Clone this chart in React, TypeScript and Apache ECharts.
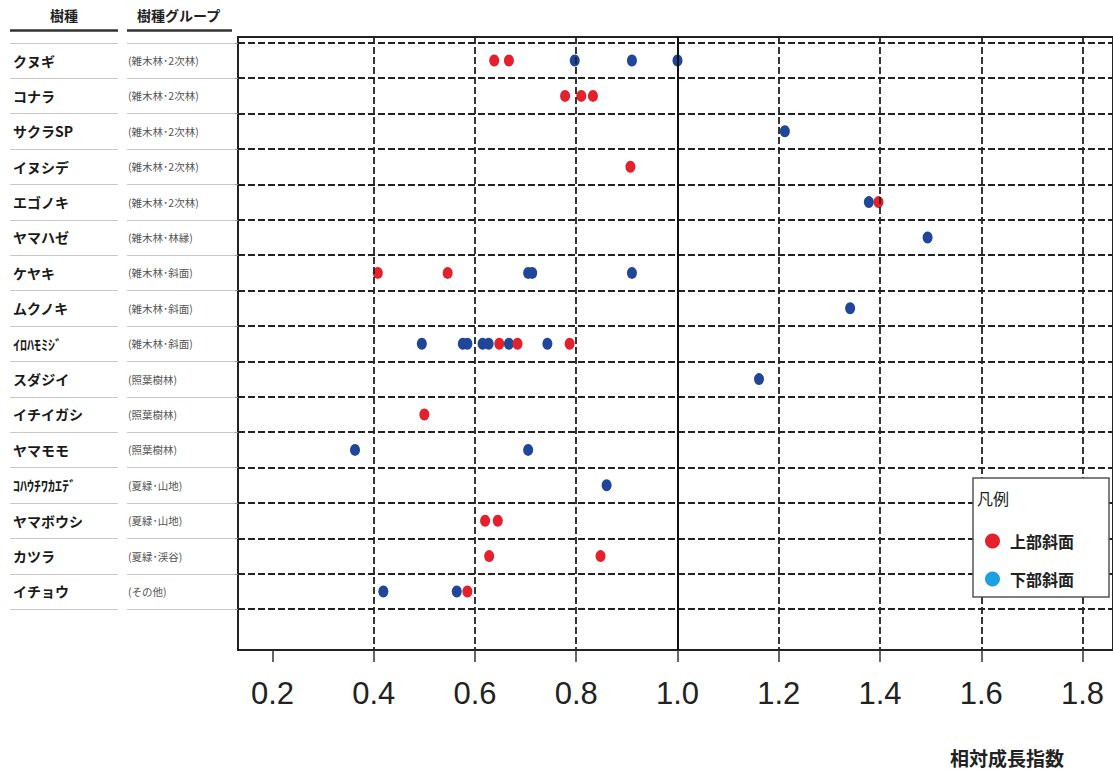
import { useEffect, useRef } from "react";
import * as echarts from "echarts";

const species = [
  "クヌギ", "コナラ", "サクラSP", "イヌシデ", "エゴノキ", "ヤマハゼ", "ケヤキ", "ムクノキ",
  "ｲﾛﾊﾓﾐｼﾞ", "スダジイ", "イチイガシ", "ヤマモモ", "ｺﾊｳﾁﾜｶｴﾃﾞ", "ヤマボウシ", "カツラ", "イチョウ",
];
const groups = [
  "(雑木林･2次林)", "(雑木林･2次林)", "(雑木林･2次林)", "(雑木林･2次林)", "(雑木林･2次林)",
  "(雑木林･林縁)", "(雑木林･斜面)", "(雑木林･斜面)", "(雑木林･斜面)",
  "(照葉樹林)", "(照葉樹林)", "(照葉樹林)",
  "(夏緑･山地)", "(夏緑･山地)", "(夏緑･渓谷)", "(その他)",
];
// 上部斜面 (upper slope) values per species row
const upperSlope: number[][] = [
  [0.638, 0.667],
  [0.778, 0.81, 0.833],
  [],
  [0.907],
  [1.397],
  [],
  [0.408, 0.546],
  [],
  [0.648, 0.684, 0.787],
  [],
  [0.5],
  [],
  [],
  [0.62, 0.645],
  [0.628, 0.848],
  [0.585],
];
// 下部斜面 (lower slope) values per species row
const lowerSlope: number[][] = [
  [0.797, 0.91, 1.0],
  [],
  [1.212],
  [],
  [1.378],
  [1.494],
  [0.705, 0.713, 0.91],
  [1.341],
  [0.495, 0.576, 0.585, 0.615, 0.627, 0.667, 0.743],
  [1.161],
  [],
  [0.363, 0.705],
  [0.86],
  [],
  [],
  [0.419, 0.564],
];
const xTicks = [0.2, 0.4, 0.6, 0.8, 1.0, 1.2, 1.4, 1.6, 1.8];
const refValue = 1.0;
const legendNames = ["上部斜面", "下部斜面"];

export default function App() {
  const ref = useRef<HTMLDivElement>(null);
  useEffect(() => {
    const chart = echarts.init(ref.current!, undefined, { renderer: "svg" });
    const jp = '"Noto Sans CJK JP", "Noto Sans", sans-serif';
    const rows = species.map((_, i) => i);
    const boundaries = [...rows.map((i) => i - 0.5), species.length - 0.5];
    const toPoints = (arr: number[][]) => arr.flatMap((vals, i) => vals.map((v) => [v, i]));
    const yMin = -0.664;
    const yMax = 16.653;
    const dashed = { type: [7, 3], color: "#222", width: 1.8 };
    const solid = { type: "solid", color: "#111", width: 2 };

    const option: any = {
      animation: false,
      grid: [
        { left: 238, right: -3, top: 37, bottom: 128, show: true, borderColor: "#222", borderWidth: 2 },
        { left: 10, width: 225, top: 37, bottom: 128 },
      ],
      xAxis: [
        {
          type: "value",
          gridIndex: 0,
          position: "bottom",
          min: 0.1319,
          max: 1.8602,
          splitLine: { show: false },
          axisLine: { show: false, onZero: false },
          axisTick: { show: true, customValues: xTicks, length: 12, lineStyle: { color: "#333", width: 1.5 } },
          axisLabel: {
            customValues: xTicks,
            formatter: (v: number) => v.toFixed(1),
            fontFamily: '"Liberation Sans Narrow", "Liberation Sans", sans-serif',
            fontSize: 31,
            color: "#222",
            margin: 28,
          },
        },
        { type: "value", gridIndex: 1, min: 0, max: 225, show: false },
      ],
      yAxis: [
        {
          type: "value",
          gridIndex: 0,
          position: "left",
          inverse: true,
          min: yMin,
          max: yMax,
          splitLine: { show: false },
          axisLine: { show: false, onZero: false },
          axisTick: { show: true, customValues: boundaries, length: 6, lineStyle: { color: "#999" } },
          axisLabel: {
            customValues: rows,
            align: "left",
            margin: 225,
            formatter: (v: number) => `{a|${species[v]}}{b|${groups[v]}}`,
            rich: {
              a: { width: 115, fontSize: 14, fontWeight: "bold", color: "#1a1a1a", fontFamily: jp },
              b: { fontSize: 10.5, color: "#555", fontFamily: jp },
            },
          },
        },
        { type: "value", gridIndex: 1, inverse: true, min: yMin, max: yMax, show: false },
      ],
      legend: {
        orient: "vertical",
        left: 980,
        top: 528,
        itemWidth: 15,
        itemHeight: 15,
        itemGap: 22,
        icon: "circle",
        z: 110,
        data: [
          { name: legendNames[0], itemStyle: { color: "#e3202c" } },
          { name: legendNames[1], itemStyle: { color: "#1ba1e2" } },
        ],
        textStyle: { fontSize: 16, fontWeight: "bold", color: "#222", fontFamily: jp, padding: [0, 0, 0, 5] },
      },
      graphic: [
        { type: "text", left: 50, top: 8, style: { text: "樹種", font: `bold 14px ${jp}`, fill: "#222" } },
        { type: "text", left: 137, top: 8, style: { text: "樹種グループ", font: `bold 14px ${jp}`, fill: "#222" } },
        { type: "line", shape: { x1: 10, y1: 30.5, x2: 118, y2: 30.5 }, style: { stroke: "#333", lineWidth: 2.5 } },
        { type: "line", shape: { x1: 127, y1: 30.5, x2: 232, y2: 30.5 }, style: { stroke: "#333", lineWidth: 2.5 } },
        {
          type: "rect",
          z: 100,
          shape: { x: 973, y: 478, width: 136, height: 119 },
          style: { fill: "#fff", stroke: "#555", lineWidth: 1.5 },
        },
        { type: "text", z: 101, left: 977, top: 490, style: { text: "凡例", font: `16px ${jp}`, fill: "#222" } },
        {
          type: "text",
          left: 950,
          top: 748,
          style: { text: "相対成長指数", font: `bold 19px ${jp}`, fill: "#222" },
        },
      ],
      series: [
        {
          type: "line",
          xAxisIndex: 0,
          yAxisIndex: 0,
          data: [],
          z: 1,
          silent: true,
          markLine: {
            symbol: "none",
            silent: true,
            animation: false,
            label: { show: false },
            data: [
              ...boundaries.map((b) => ({ yAxis: b, lineStyle: dashed })),
              ...xTicks.filter((v) => v > xTicks[0]).map((v) => ({ xAxis: v, lineStyle: v === refValue ? solid : dashed })),
            ],
          },
        },
        {
          type: "line",
          xAxisIndex: 1,
          yAxisIndex: 1,
          data: [],
          silent: true,
          markLine: {
            symbol: "none",
            silent: true,
            animation: false,
            label: { show: false },
            lineStyle: { color: "#c8c8c8", width: 1, type: "solid" },
            data: boundaries.flatMap((b) => [
              [{ coord: [0, b] }, { coord: [108, b] }],
              [{ coord: [117, b] }, { coord: [225, b] }],
            ]),
          },
        },
        {
          name: legendNames[1],
          type: "scatter",
          xAxisIndex: 0,
          yAxisIndex: 0,
          z: 3,
          symbol: "circle",
          symbolSize: [10, 12],
          itemStyle: { color: "#1f4699", opacity: 1 },
          data: toPoints(lowerSlope),
        },
        {
          name: legendNames[0],
          type: "scatter",
          xAxisIndex: 0,
          yAxisIndex: 0,
          z: 4,
          symbol: "circle",
          symbolSize: [10, 12],
          itemStyle: { color: "#e3202c", opacity: 1 },
          data: toPoints(upperSlope),
        },
      ],
    };
    chart.setOption(option);
    return () => chart.dispose();
  }, []);
  return <div ref={ref} style={{ position: "absolute", left: 0, top: 0, width: 1113, height: 778 }} />;
}
